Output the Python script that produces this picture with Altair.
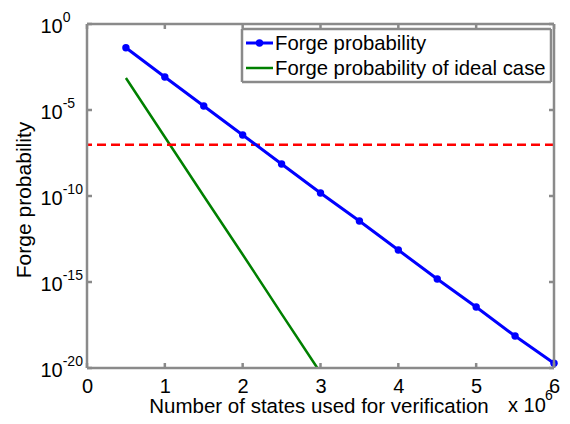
import altair as alt
import pandas as pd

# ---- data ----
x_states = [0.5, 1.0, 1.5, 2.0, 2.5, 3.0, 3.5, 4.0, 4.5, 5.0, 5.5, 6.0]
forge_prob = [4.2e-2, 8.3e-4, 1.7e-5, 3.5e-7, 7.2e-9, 1.5e-10, 3.5e-12,
              7.2e-14, 1.5e-15, 3.5e-17, 7.2e-19, 1.9e-20]
x_ideal = [0.5, 1.0, 1.5, 2.0, 2.5, 2.96]
ideal_prob = [7.2e-4, 2.7e-7, 1.0e-10, 4.0e-14, 1.4e-17, 1.0e-20]
threshold = [9.5e-8]
x_ticks = [0, 1, 2, 3, 4, 5, 6]
y_ticks = [1e0, 1e-5, 1e-10, 1e-15, 1e-20]
y_exps = ["0", "-5", "-10", "-15", "-20"]
legend_labels = ["Forge probability", "Forge probability of ideal case"]

W, H = 467, 344
FONT = "Liberation Sans"
AX = "#8a8a8a"
AXW = 2.5

blue_df = pd.DataFrame({"x": x_states, "p": forge_prob})
green_df = pd.DataFrame({"x": x_ideal, "p": ideal_prob})
thr_df = pd.DataFrame({"p": threshold})
xt_df = pd.DataFrame({"x": x_ticks})
yt_df = pd.DataFrame({"p": y_ticks, "e": y_exps})
one = pd.DataFrame({"a": [0]})

xs = alt.Scale(domain=[0, 6], nice=False, zero=False)
ys = alt.Scale(type="log", domain=[1e-20, 1], nice=False)

xenc = alt.X("x:Q", scale=xs,
             axis=alt.Axis(values=x_ticks, tickSize=0, domain=False, grid=False,
                           title=None, labelFontSize=20, labelFont=FONT,
                           labelColor="black", labelPadding=8, format="d",
                           labelFlush=False, labelOverlap=False))
yenc = alt.Y("p:Q", scale=ys, axis=None)

green = alt.Chart(green_df).mark_line(color="#008000", strokeWidth=2.5).encode(x=xenc, y=yenc)
blue_line = alt.Chart(blue_df).mark_line(color="#0000ff", strokeWidth=3).encode(x=xenc, y=yenc)
blue_pts = alt.Chart(blue_df).mark_point(color="#0000ff", filled=True, size=55, opacity=1).encode(x=xenc, y=yenc)
red = alt.Chart(thr_df).mark_rule(color="#ff0000", strokeWidth=2.5, strokeDash=[9, 5]).encode(y=yenc)


def hline(y, x0, x1, w=AXW):
    return alt.Chart(one).mark_rule(color=AX, strokeWidth=w).encode(
        x=alt.value(x0), x2=alt.value(x1), y=alt.value(y))


def vline(x, y0, y1, w=AXW):
    return alt.Chart(one).mark_rule(color=AX, strokeWidth=w).encode(
        x=alt.value(x), y=alt.value(y0), y2=alt.value(y1))


# frame
frame = [hline(0, 0, W), hline(H, 0, W), vline(0, 0, H), vline(W, 0, H)]

# inward ticks
xt_bot = alt.Chart(xt_df).mark_rule(color=AX, strokeWidth=AXW).encode(
    x=xenc, y=alt.value(H), y2=alt.value(H - 5))
xt_top = alt.Chart(xt_df).mark_rule(color=AX, strokeWidth=AXW).encode(
    x=xenc, y=alt.value(0), y2=alt.value(5))
yt_left = alt.Chart(yt_df).mark_rule(color=AX, strokeWidth=AXW).encode(
    y=yenc, x=alt.value(0), x2=alt.value(5))
yt_right = alt.Chart(yt_df).mark_rule(color=AX, strokeWidth=AXW).encode(
    y=yenc, x=alt.value(W), x2=alt.value(W - 5))

# legend border
leg_border = [hline(5, 155, 464), hline(58, 155, 464), vline(155, 5, 58), vline(464, 5, 58)]

# y tick labels 10^n
y_base = alt.Chart(yt_df).mark_text(text="10", align="left", baseline="alphabetic",
                                    fontSize=20, font=FONT, color="black", dy=8.5).encode(
    y=yenc, x=alt.value(-46.5))
y_exp = alt.Chart(yt_df).mark_text(align="left", baseline="alphabetic",
                                   fontSize=14, font=FONT, color="black", dy=-2.5).encode(
    y=yenc, x=alt.value(-24.3), text="e:N")

# titles
x_title = alt.Chart(one).mark_text(text="Number of states used for verification",
                                   align="center", baseline="alphabetic",
                                   fontSize=20.5, font=FONT, color="black").encode(
    x=alt.value(W / 2 - 1.5), y=alt.value(389))
y_title = alt.Chart(one).mark_text(text="Forge probability", angle=270,
                                   align="center", baseline="middle",
                                   fontSize=21, font=FONT, color="black").encode(
    x=alt.value(-62), y=alt.value(176))
x_mult = alt.Chart(one).mark_text(text="x 10", align="left", baseline="alphabetic",
                                  fontSize=20, font=FONT, color="black").encode(
    x=alt.value(421), y=alt.value(388))
x_mult_exp = alt.Chart(one).mark_text(text="6", align="left", baseline="alphabetic",
                                      fontSize=14, font=FONT, color="black").encode(
    x=alt.value(458), y=alt.value(376))

# legend entries
leg_b_line = alt.Chart(one).mark_rule(color="#0000ff", strokeWidth=3).encode(
    x=alt.value(159), x2=alt.value(186), y=alt.value(19))
leg_b_pt = alt.Chart(one).mark_point(color="#0000ff", filled=True, size=55, opacity=1).encode(
    x=alt.value(172.5), y=alt.value(19))
leg_g_line = alt.Chart(one).mark_rule(color="#008000", strokeWidth=2.5).encode(
    x=alt.value(159), x2=alt.value(186), y=alt.value(44))
leg_t1 = alt.Chart(one).mark_text(text=legend_labels[0], align="left", baseline="alphabetic",
                                  fontSize=20.3, font=FONT, color="black").encode(
    x=alt.value(188), y=alt.value(26))
leg_t2 = alt.Chart(one).mark_text(text=legend_labels[1], align="left", baseline="alphabetic",
                                  fontSize=20.3, font=FONT, color="black").encode(
    x=alt.value(188), y=alt.value(51))

chart = alt.layer(
    green, red, blue_line, blue_pts,
    y_base, y_exp, x_title, y_title, x_mult, x_mult_exp,
    leg_b_line, leg_b_pt, leg_g_line, leg_t1, leg_t2,
    *frame, xt_bot, xt_top, yt_left, yt_right, *leg_border,
).properties(
    width=W, height=H,
    autosize=alt.AutoSizeParams(type="none"),
    padding={"left": 79, "top": 16, "right": 8, "bottom": 48},
    background="white",
).configure_view(stroke=None)

chart.save("out.html", embed_options={"renderer": "svg", "actions": False})
